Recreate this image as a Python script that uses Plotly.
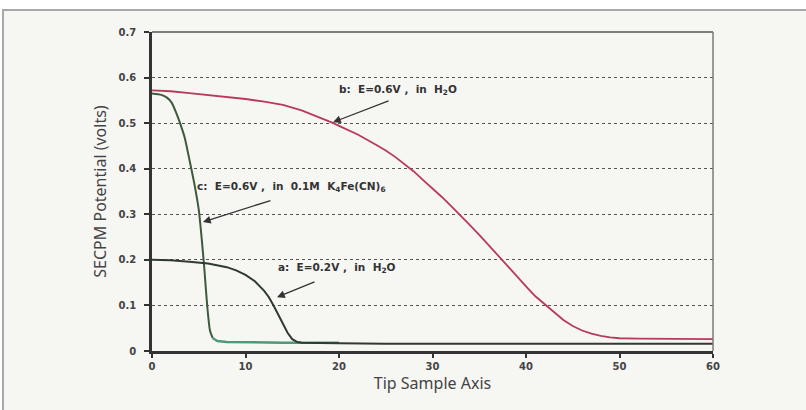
import plotly.graph_objects as go

# ---- data ----
b_x = [0, 2, 4, 6, 8, 10, 12, 14, 16, 18, 19.4, 20, 22, 24, 25, 26, 27, 28, 29, 30,
       31, 32, 33, 34, 35, 36, 37, 38, 39, 40, 41, 42, 43, 44, 45, 46, 47, 48, 49, 50,
       52, 54, 56, 58, 60]
b_y = [0.572, 0.570, 0.566, 0.562, 0.558, 0.553, 0.547, 0.540, 0.528, 0.512, 0.500,
       0.494, 0.475, 0.452, 0.440, 0.426, 0.410, 0.394, 0.375, 0.357, 0.338, 0.318,
       0.298, 0.276, 0.255, 0.232, 0.210, 0.188, 0.164, 0.142, 0.120, 0.102, 0.084,
       0.068, 0.055, 0.045, 0.038, 0.033, 0.030, 0.028, 0.027, 0.027, 0.026, 0.026, 0.026]

c_x = [0, 1, 1.6, 2.1, 2.6, 3, 3.5, 4, 4.5, 5, 5.3, 5.6, 5.9, 6.2, 6.5, 7, 8, 10, 12,
       14, 16, 18, 20]
c_y = [0.565, 0.562, 0.556, 0.545, 0.522, 0.500, 0.468, 0.420, 0.370, 0.310, 0.250,
       0.180, 0.100, 0.045, 0.028, 0.022, 0.020, 0.019, 0.019, 0.018, 0.018, 0.018, 0.018]

a_x = [0, 2, 4, 6, 8, 9, 10, 11, 12, 12.5, 13, 13.5, 14, 14.5, 15, 15.5, 16, 18, 20,
       25, 30, 35, 40, 45, 50, 55, 60]
a_y = [0.200, 0.199, 0.196, 0.192, 0.184, 0.177, 0.167, 0.153, 0.132, 0.118, 0.100,
       0.080, 0.060, 0.040, 0.026, 0.020, 0.018, 0.017, 0.017, 0.016, 0.016, 0.016,
       0.016, 0.016, 0.016, 0.016, 0.016]

x_ticks = [0, 10, 20, 30, 40, 50, 60]
y_ticks = [0, 0.1, 0.2, 0.3, 0.4, 0.5, 0.6, 0.7]
y_tick_text = ["0", "0.1", "0.2", "0.3", "0.4", "0.5", "0.6", "0.7"]

label_b = "b:  E=0.6V ,  in  H<sub>2</sub>O"
label_c = "c:  E=0.6V ,  in  0.1M  K<sub>4</sub>Fe(CN)<sub>6</sub>"
label_a = "a:  E=0.2V ,  in  H<sub>2</sub>O"

# ---- figure ----
fig = go.Figure()

c_split = 14  # index where curve c becomes the flat green tail
fig.add_trace(go.Scatter(x=c_x[:c_split + 1], y=c_y[:c_split + 1], mode="lines",
                         line=dict(color="#3c5a3e", width=2, shape="spline", smoothing=0.6),
                         showlegend=False))
fig.add_trace(go.Scatter(x=c_x[c_split:], y=c_y[c_split:], mode="lines",
                         line=dict(color="#4f9878", width=2.5), showlegend=False))
fig.add_trace(go.Scatter(x=a_x, y=a_y, mode="lines",
                         line=dict(color="#2f3a30", width=2), showlegend=False))
fig.add_trace(go.Scatter(x=b_x, y=b_y, mode="lines",
                         line=dict(color="#b83a5a", width=1.8), showlegend=False))

L, R, T, B = 152, 93, 32, 59
W, H = 806, 410
pw, ph = W - L - R, H - T - B


def px(xp):
    return (xp - L) / pw


def py(yp):
    return (H - B - yp) / ph


shapes = [
    dict(type="rect", xref="paper", yref="paper", x0=px(3), x1=px(812), y0=py(10), y1=py(416),
         line=dict(color="#a8a8a8", width=2), fillcolor="#f6f6f3", layer="below"),
    dict(type="line", xref="paper", yref="paper", x0=0, x1=1, y0=1, y1=1,
         line=dict(color="#555555", width=1.5)),
    dict(type="line", xref="paper", yref="paper", x0=1, x1=1, y0=0, y1=1,
         line=dict(color="#7a7a7a", width=1.5)),
]

ann_font = dict(family="DejaVu Sans", size=10.5, color="#333333", weight="bold")
annotations = [
    dict(x=19.36, y=0.502, ax=57, ay=-22, text="", showarrow=True, arrowhead=2,
         arrowsize=1.2, arrowwidth=1.3, arrowcolor="#333333"),
    dict(x=26.3, y=0.572, text=label_b, showarrow=False, font=ann_font, xanchor="center"),
    dict(x=5.45, y=0.283, ax=69, ay=-22, text="", showarrow=True, arrowhead=2,
         arrowsize=1.2, arrowwidth=1.3, arrowcolor="#333333"),
    dict(x=4.6, y=0.36, text=label_c, showarrow=False, font=ann_font, xanchor="left"),
    dict(x=13.3, y=0.182, text=label_a, showarrow=False, font=ann_font, xanchor="left"),
    dict(x=13.37, y=0.118, ax=39, ay=-16, text="", showarrow=True, arrowhead=2,
         arrowsize=1.2, arrowwidth=1.3, arrowcolor="#333333"),
]

tick_font = dict(family="DejaVu Sans", size=10, color="#444444", weight="bold")
fig.update_layout(
    width=W, height=H,
    margin=dict(l=L, r=R, t=T, b=B),
    paper_bgcolor="white",
    plot_bgcolor="rgba(0,0,0,0)",
    shapes=shapes,
    annotations=annotations,
    xaxis=dict(range=[0, 60], tickvals=x_ticks, ticks="outside", ticklen=4, tickwidth=1.5,
               tickcolor="#333333", showgrid=False, zeroline=False, showline=True,
               linecolor="#333333", linewidth=2.5, tickfont=tick_font, automargin=False,
               title=dict(text="Tip Sample Axis", standoff=4,
                          font=dict(family="Noto Sans", size=16, color="#444444"))),
    yaxis=dict(range=[0, 0.7], tickvals=y_ticks, ticktext=y_tick_text, ticks="outside",
               ticklen=5, tickwidth=1.5, tickcolor="#333333", showgrid=True,
               gridcolor="#555555", griddash="dot", gridwidth=1.3, zeroline=False,
               showline=True, linecolor="#333333", linewidth=2.5, tickfont=tick_font,
               ticklabelstandoff=6, automargin=False,
               title=dict(text="SECPM Potential (volts)", standoff=8,
                          font=dict(family="Noto Sans", size=16, color="#444444"))),
)

fig.write_html("out.html", config={"displayModeBar": False},
               post_script="document.body.style.margin='0';document.body.style.overflow='hidden';")
